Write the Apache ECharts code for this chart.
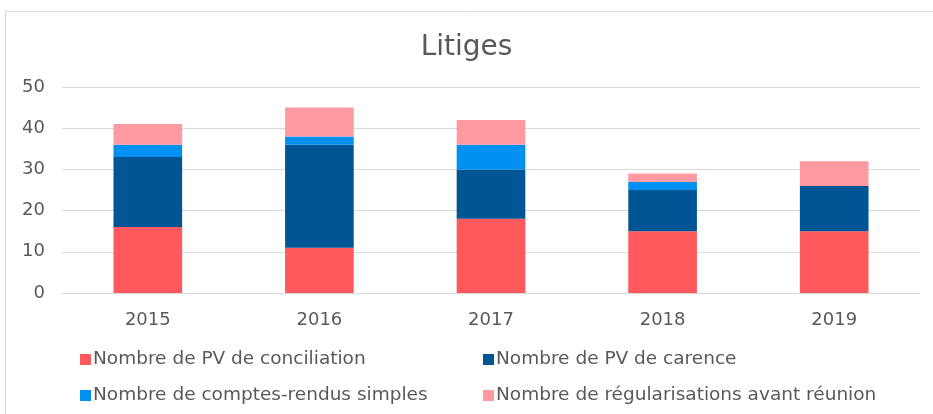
<!DOCTYPE html>
<html><head><meta charset="utf-8">
<script src="https://cdn.jsdelivr.net/npm/echarts@6/dist/echarts.min.js"></script>
<style>html,body{margin:0;padding:0;background:#fff}#c{width:933px;height:414px}</style>
</head><body><div id="c"></div>
<script>
const categories = ['2015','2016','2017','2018','2019'];
const seriesNames = ['Nombre de PV de conciliation','Nombre de PV de carence','Nombre de comptes-rendus simples','Nombre de régularisations avant réunion'];
const conciliation = [16, 11, 18, 15, 15];
const carence = [17, 25, 12, 10, 11];
const comptesRendus = [3, 2, 6, 2, 0];
const regularisations = [5, 7, 6, 2, 6];
const yTicks = {min: 0, max: 50, interval: 10};
const colors = ['#FF595E', '#005594', '#0090F0', '#FF9AA0'];
const values = [conciliation, carence, comptesRendus, regularisations];

const font = 'DejaVu Sans, Verdana, sans-serif';
const chart = echarts.init(document.getElementById('c'));
const legendPos = [[80, 350], [483, 350], [80, 386], [483, 386]];
chart.setOption({
  animation: false,
  graphic: [{type: 'rect', shape: {x: 5.5, y: 11.5, width: 940, height: 420}, style: {fill: 'none', stroke: '#d9d9d9', lineWidth: 1}}],
  title: {text: 'Litiges', left: 'center', top: 29, textStyle: {fontFamily: font, fontSize: 28, fontWeight: 'normal', color: '#595959'}},
  legend: seriesNames.map((n, i) => ({
    data: [n], left: legendPos[i][0], top: legendPos[i][1], itemWidth: 11, itemHeight: 11, itemGap: 4,
    icon: 'rect', textStyle: {fontFamily: font, fontSize: 18.5, color: '#595959', padding: [0, 0, 0, -3]}, padding: 0
  })),
  grid: {left: 62, right: 13, top: 87, bottom: 121},
  xAxis: {type: 'category', data: categories,
    axisLine: {lineStyle: {color: '#d9d9d9'}}, axisTick: {show: false},
    axisLabel: {fontFamily: font, fontSize: 18, color: '#595959', margin: 18}},
  yAxis: {type: 'value', min: yTicks.min, max: yTicks.max, interval: yTicks.interval,
    splitLine: {lineStyle: {color: '#d9d9d9'}}, axisLine: {show: false}, axisTick: {show: false},
    axisLabel: {fontFamily: font, fontSize: 18, color: '#595959', margin: 17}},
  series: seriesNames.map((n, i) => ({
    name: n, type: 'bar', stack: 'total', data: values[i], barWidth: '40%',
    itemStyle: {color: colors[i]}
  }))
});
</script></body></html>
